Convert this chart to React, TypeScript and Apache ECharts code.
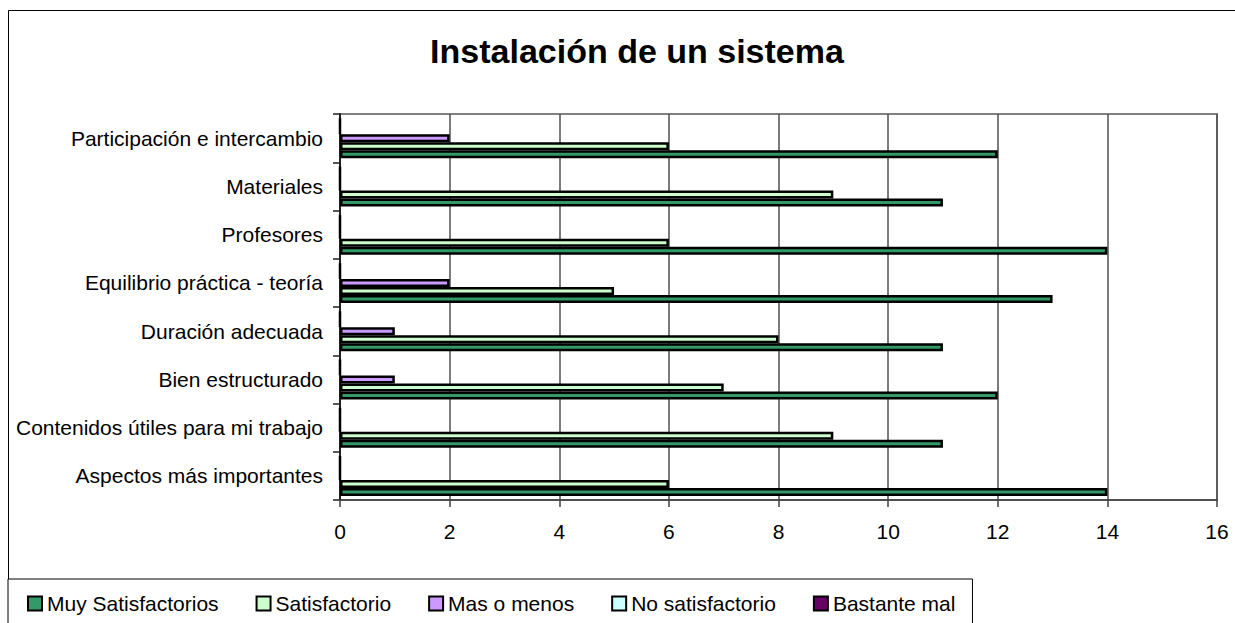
import React, { useEffect, useRef } from "react";
import * as echarts from "echarts";

const title = "Instalación de un sistema";

// Bottom to top, as in the picture
const categories = [
  "Aspectos más importantes",
  "Contenidos útiles para mi trabajo",
  "Bien estructurado",
  "Duración adecuada",
  "Equilibrio práctica - teoría",
  "Profesores",
  "Materiales",
  "Participación e intercambio",
];

const seriesNames = [
  "Muy Satisfactorios",
  "Satisfactorio",
  "Mas o menos",
  "No satisfactorio",
  "Bastante mal",
];

const muySatisfactorios = [14, 11, 12, 11, 13, 14, 11, 12];
const satisfactorio = [6, 9, 7, 8, 5, 6, 9, 6];
const masOMenos = [0, 0, 1, 1, 2, 0, 0, 2];
const noSatisfactorio = [0, 0, 0, 0, 0, 0, 0, 0];
const bastanteMal = [0, 0, 0, 0, 0, 0, 0, 0];

const seriesValues = [muySatisfactorios, satisfactorio, masOMenos, noSatisfactorio, bastanteMal];
const seriesColors = ["#339966", "#CCFFCC", "#CC99FF", "#CCFFFF", "#660066"];

const xTicks = { min: 0, max: 16, interval: 2 };

const FONT = "'Liberation Sans', Arial, sans-serif";

export default function App() {
  const ref = useRef<HTMLDivElement>(null);

  useEffect(() => {
    if (!ref.current) return;
    const chart = echarts.init(ref.current, undefined, { renderer: "svg" });
    // ECharts stacks the bars of a horizontal group from the top down in series order,
    // so the series are given in reverse to put "Muy Satisfactorios" at the bottom.
    const order = seriesNames.map((_, i) => i).reverse();
    chart.setOption({
      animation: false,
      backgroundColor: "#ffffff",
      textStyle: { fontFamily: FONT, color: "#000" },
      title: {
        text: title,
        left: 632,
        textAlign: "center",
        top: 29,
        textStyle: { fontFamily: FONT, fontWeight: "bold", fontSize: 34, color: "#000" },
      },
      graphic: [
        {
          type: "rect",
          z: -10,
          silent: true,
          shape: { x: 8.5, y: 10.5, width: 1400, height: 800 },
          style: { fill: "none", stroke: "#000", lineWidth: 1 },
        },
      ],
      legend: {
        data: seriesNames,
        left: 8,
        top: 579,
        orient: "horizontal",
        padding: [14, 17, 40, 19],
        itemGap: 37,
        itemWidth: 14,
        itemHeight: 14,
        icon: "rect",
        borderColor: "#000",
        borderWidth: 1,
        backgroundColor: "#fff",
        textStyle: { fontFamily: FONT, fontSize: 21, color: "#000" },
      },
      grid: {
        left: 340,
        right: 18,
        top: 114,
        bottom: 123,
        show: true,
        borderColor: "#808080",
        borderWidth: 2,
        backgroundColor: "#fff",
      },
      xAxis: {
        type: "value",
        min: xTicks.min,
        max: xTicks.max,
        interval: xTicks.interval,
        axisLine: { show: true, lineStyle: { color: "#404040", width: 1.5 } },
        axisTick: { show: true, inside: false, length: 7, lineStyle: { color: "#404040", width: 1.5 } },
        axisLabel: { fontFamily: FONT, fontSize: 21, color: "#000", margin: 21 },
        splitLine: { show: true, lineStyle: { color: "#505050", width: 1.5 } },
      },
      yAxis: {
        type: "category",
        data: categories,
        axisLine: { show: true, lineStyle: { color: "#202020", width: 2 } },
        axisTick: { show: true, inside: false, length: 7, lineStyle: { color: "#202020", width: 1.5 } },
        axisLabel: { fontFamily: FONT, fontSize: 21, color: "#000", margin: 17 },
        splitLine: { show: false },
      },
      series: order.map((i) => ({
        name: seriesNames[i],
        type: "bar",
        data: seriesValues[i],
        barWidth: 8,
        barGap: "0%",
        itemStyle: { color: seriesColors[i], borderColor: "#000", borderWidth: 2.5 },
      })),
    });
    return () => chart.dispose();
  }, []);

  return (
    <div style={{ position: "fixed", left: 0, top: 0, width: 1235, height: 623 }}>
      <div ref={ref} style={{ width: 1235, height: 623 }} />
    </div>
  );
}
